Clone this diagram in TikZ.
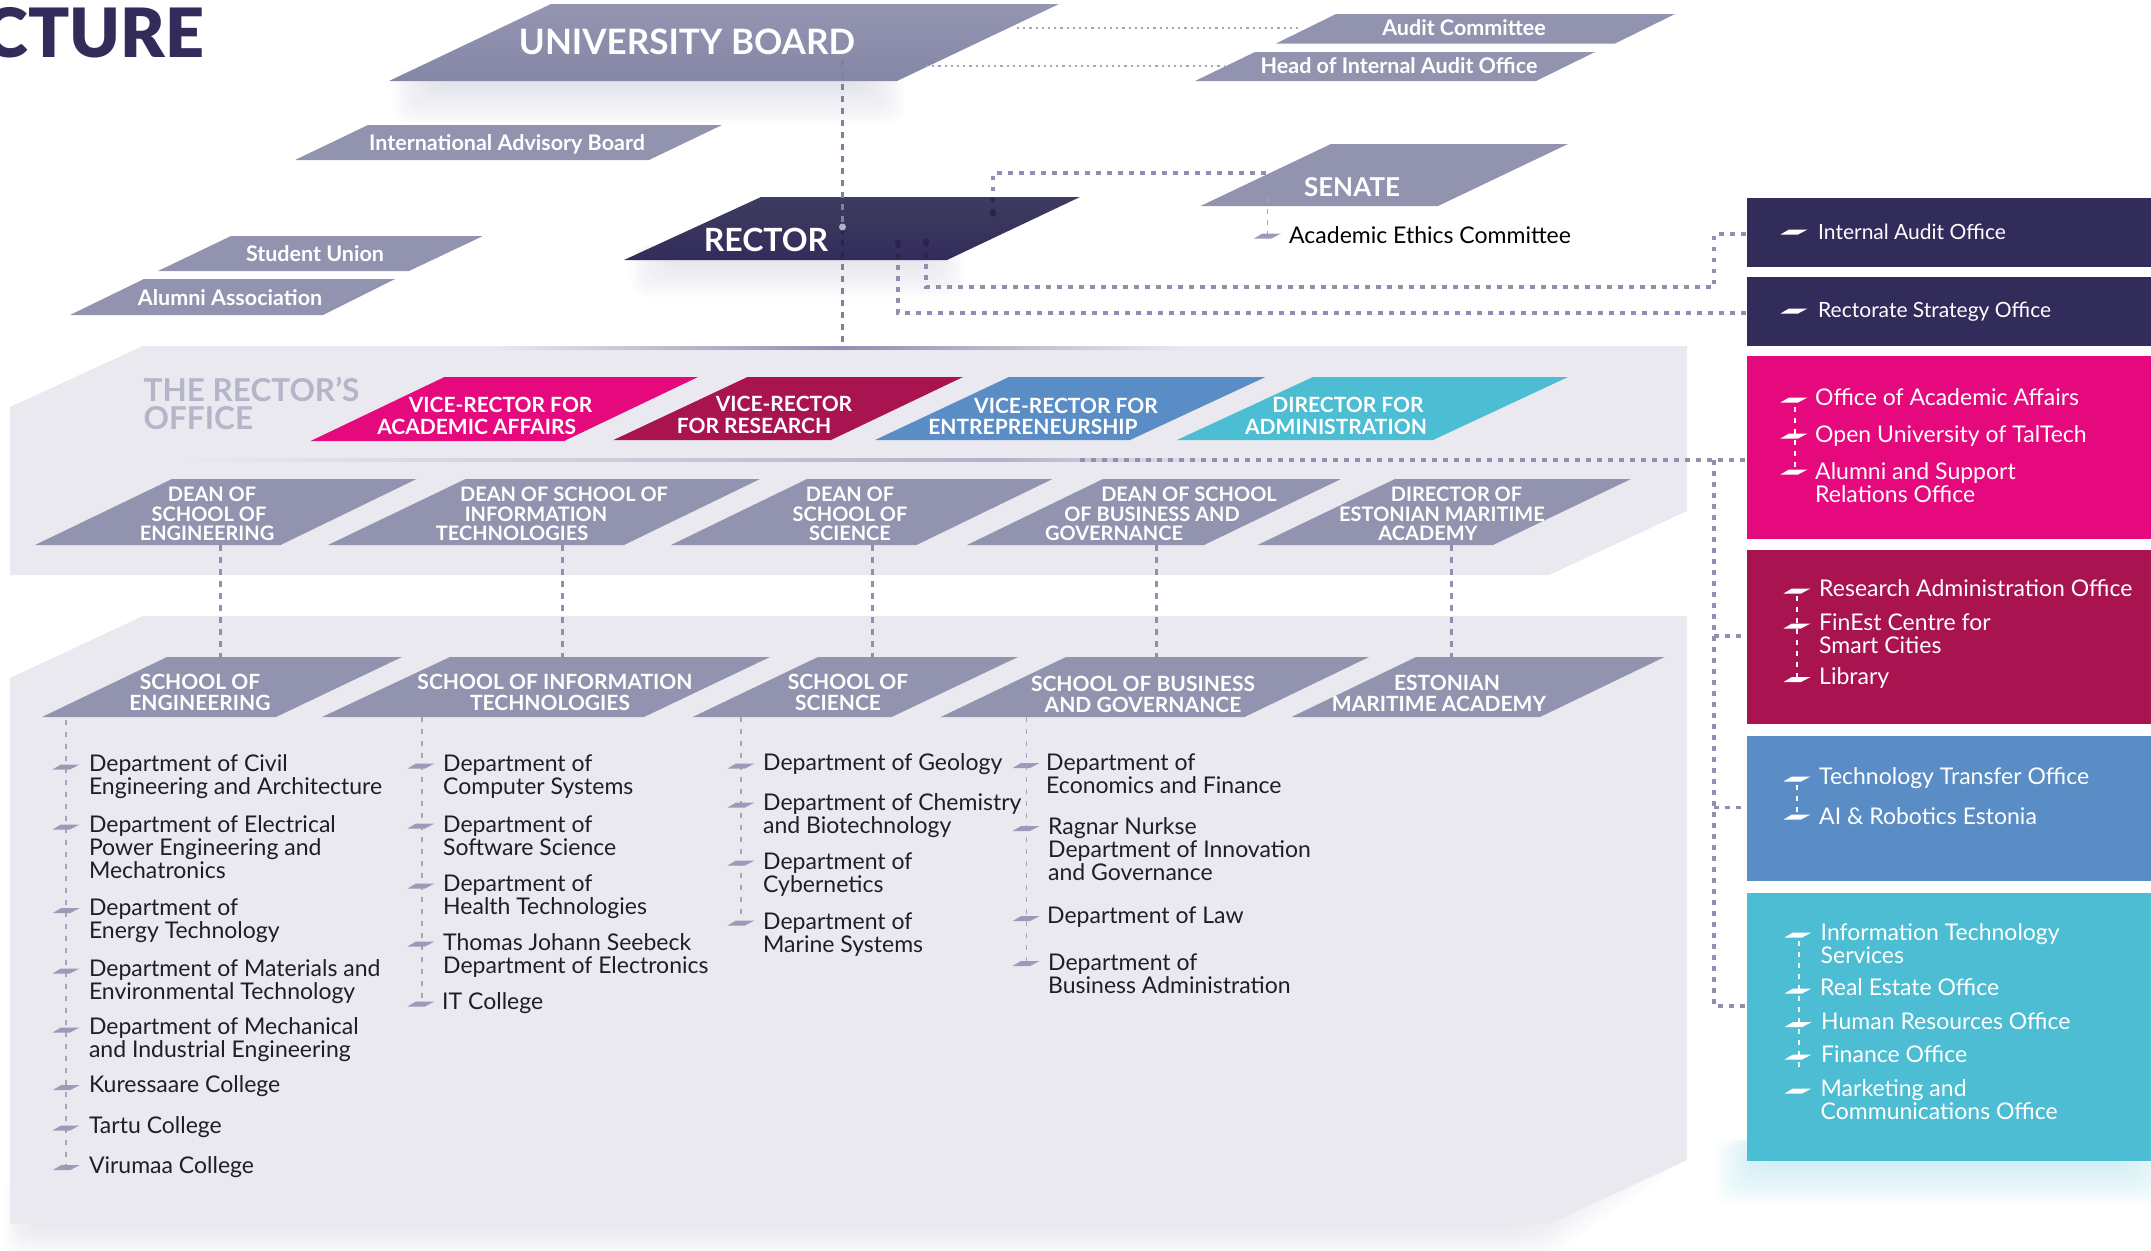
\documentclass[tikz,border=0pt]{standalone}
\usepackage{fontspec}
\setmainfont{Lato}
\newfontfamily\titlefont{Lato Black}
\definecolor{grayshape}{HTML}{9294AF}
\definecolor{boardtop}{HTML}{9395B1}
\definecolor{boardbot}{HTML}{8587A6}
\definecolor{navy}{HTML}{322C5B}
\definecolor{navytop}{HTML}{3E3C60}
\definecolor{pinkc}{HTML}{E6097E}
\definecolor{crimson}{HTML}{A91350}
\definecolor{bluec}{HTML}{5A8DC5}
\definecolor{cyanc}{HTML}{4CBDD3}
\definecolor{panel}{HTML}{E9E9EF}
\definecolor{lineC}{HTML}{8F8FB0}
\definecolor{bulC}{HTML}{9A9BB8}
\definecolor{officeC}{HTML}{B5B5C9}
\definecolor{darktxt}{HTML}{1E1E2A}
\newcommand{\shf}[1]{\hspace*{#1pt}}
\newcommand{\pgm}[7]{\fill[#7] (#1,#5) -- (#2,#5) -- (#4,#6) -- (#3,#6) -- cycle;}
\newcommand{\bul}[3]{\fill[#3] (#1-13.5,#2+2.5) -- (#1-5,#2-2.5) -- (#1+13.5,#2-2.5) -- (#1+4,#2+2.5) -- cycle;}
\newcommand{\softsh}[5]{\foreach \k in {0,...,15}{\fill[#5,opacity=0.018,rounded corners=16pt] (#1+\k*3,#2) rectangle (#3-\k*3,#4-\k*3);}}
\tikzset{
  x=1pt,y=-1pt,
  heavy/.style={line width=3.2pt,draw=lineC,dash pattern=on 4.5pt off 6.5pt},
  thinrule/.style={line width=1.4pt,draw=lineC!80,dash pattern=on 5pt off 7pt},
  lightdots/.style={line width=2.2pt,draw=lineC!80,dash pattern=on 2.2pt off 4pt},
  wlist/.style={line width=1.4pt,draw=white,dash pattern=on 5pt off 6pt},
  head/.style={inner sep=0pt,text=white,align=center,font=\fontsize{20.5}{20}\selectfont\bfseries},
  dean/.style={head,font=\fontsize{20}{19.5}\selectfont\bfseries},
  vice/.style={head,font=\fontsize{21}{21.8}\selectfont\bfseries},
  school/.style={head,font=\fontsize{21}{21}\selectfont\bfseries},
  small/.style={head,font=\fontsize{21.5}{20}\selectfont\bfseries},
  dept/.style={inner sep=0pt,text=darktxt,align=left,anchor=west,yshift=-1.5pt,font=\fontsize{23}{23}\selectfont},
  off/.style={inner sep=0pt,text=white,align=left,anchor=west,font=\fontsize{23}{23}\selectfont},
  offsm/.style={off,font=\fontsize{21}{21}\selectfont},
}
\begin{document}
\begin{tikzpicture}
\useasboundingbox (0,0) rectangle (2151,1250);
\clip (0,0) rectangle (2151,1250);
% soft shadows
\softsh{392}{70}{905}{125}{lineC}
\softsh{630}{245}{965}{298}{lineC}
\softsh{1715}{1140}{2170}{1205}{cyanc}
\foreach \k in {0,...,15}{
  \fill[lineC,opacity=0.016,rounded corners=14pt] (4+\k*2,1180) -- (1672-\k*3,1130) -- (1672-\k*3,1172-\k*2) -- (1555-\k*3,1254-\k*2) -- (4+\k*2,1254-\k*2) -- cycle;
}
% panels
\fill[panel] (143,346) -- (1687,346) -- (1687,511) -- (1549,575) -- (10,575) -- (10,407) -- cycle;
\fill[panel] (143,616) -- (1687,616) -- (1687,1160) -- (1549,1224) -- (10,1224) -- (10,678) -- cycle;
% gradient rules
\shade[left color=panel,right color=panel,middle color=lineC] (491,346) rectangle (1187,349);
\shade[left color=panel,right color=lineC!70] (180,458.5) rectangle (1000,461.5);
\shade[left color=lineC!70,right color=panel] (1000,458.5) rectangle (1230,461.5);
% title
\node[inner sep=0pt,anchor=base east,text=navy,font=\fontsize{68}{68}\selectfont\titlefont] (title) at (204.5,57) {CTURE};
% top shapes
\shade[top color=boardtop,bottom color=boardbot] (551,4) -- (1059,4) -- (897,81) -- (389,81) -- cycle;
\pgm{368}{722}{295}{649}{125}{160}{grayshape}
\pgm{231}{483}{158}{409}{236}{271}{grayshape}
\pgm{144}{395}{70}{323}{279}{315}{grayshape}
\pgm{1336}{1675}{1276}{1615}{14}{43.5}{grayshape}
\pgm{1255}{1595}{1195}{1536}{52}{81}{grayshape}
\pgm{1331}{1568}{1200.5}{1438}{144}{206}{grayshape}
\shade[top color=navytop,bottom color=navy] (761,197) -- (1080,197) -- (947,260) -- (624,260) -- cycle;
% side boxes
\fill[navy] (1747,197.5) rectangle (2151,267);
\fill[navy] (1747,277) rectangle (2151,346);
\fill[pinkc] (1747,356) rectangle (2151,538.6);
\fill[crimson] (1747,550) rectangle (2151,724);
\fill[bluec] (1747,736) rectangle (2151,880.6);
\fill[cyanc] (1747,893) rectangle (2151,1161);
% leadership shapes
\pgm{444.5}{698}{310.6}{564}{377}{441}{pinkc}
\pgm{747.5}{963}{613.5}{831}{377}{440}{crimson}
\pgm{1009}{1265.5}{875}{1130}{377}{440}{bluec}
\pgm{1313}{1568}{1177}{1433}{377}{440}{cyanc}
\pgm{172}{416.5}{35}{280.6}{479}{545}{grayshape}
\pgm{465.6}{760}{328}{624}{479}{545}{grayshape}
\pgm{807}{1052.5}{671}{916.5}{479}{545}{grayshape}
\pgm{1103}{1341}{967}{1204}{479}{545}{grayshape}
\pgm{1395}{1631}{1257.5}{1493}{479}{545}{grayshape}
\pgm{167}{402}{42}{276}{657}{717}{grayshape}
\pgm{450}{770}{322}{644}{657}{717}{grayshape}
\pgm{818}{1018}{692.6}{891.6}{657}{717}{grayshape}
\pgm{1066}{1369}{940.7}{1244.5}{657}{717}{grayshape}
\pgm{1416}{1664.5}{1291.5}{1540}{657}{717}{grayshape}
% connector ports
\coordinate (boardS) at (842.5,60);
\coordinate (officeTop) at (842.5,347);
\coordinate (boardE1) at (1017,28);
\coordinate (auditW) at (1301,28);
\coordinate (boardE2) at (926,66);
\coordinate (headW) at (1224,66);
\coordinate (rectorA) at (993,213);
\coordinate (cornerA) at (993,173);
\coordinate (senateW) at (1271,173);
\coordinate (senateS) at (1267.5,198);
\coordinate (ethicsB) at (1267.5,236);
\coordinate (rectorB) at (926,242);
\coordinate (cornerB1) at (926,287);
\coordinate (cornerB2) at (1714,287);
\coordinate (cornerB3) at (1714,234);
\coordinate (auditBoxW) at (1747,234);
\coordinate (rectorC) at (898,243);
\coordinate (cornerC) at (898,313);
\coordinate (strategyW) at (1747,313);
\coordinate (midS) at (1080,460);
\coordinate (pinkW) at (1747,460);
\coordinate (busT) at (1714,460);
\coordinate (busB) at (1714,1006);
\coordinate (crimsonW) at (1747,636);
\coordinate (busC) at (1714,636);
\coordinate (blueW) at (1747,807.5);
\coordinate (busD) at (1714,807.5);
\coordinate (cyanW) at (1747,1006);
\foreach \n/\x in {a/220.6,b/562.5,c/872.5,d/1156.4,e/1451.5}{
  \coordinate (dean\n) at (\x,545);
  \coordinate (school\n) at (\x,657);
  \draw[heavy,line width=2.6pt,dash pattern=on 6pt off 6pt] (dean\n) -- (school\n);
}
% connectors
\draw[heavy,line width=2.6pt,draw=lineC!90!black,dash pattern=on 6pt off 6pt] (boardS) -- (officeTop);
\draw[lightdots] (boardE1) -- (auditW);
\draw[lightdots] (boardE2) -- (headW);
\draw[heavy] (rectorA) -- (cornerA) -- (senateW);
\draw[line width=1.4pt,draw=lineC!80,dash pattern=on 5pt off 6pt] (senateS) -- (ethicsB);
\draw[heavy] (rectorB) -- (cornerB1) -- (cornerB2) -- (cornerB3) -- (auditBoxW);
\draw[heavy] (rectorC) -- (cornerC) -- (strategyW);
\draw[heavy] (midS) -- (pinkW);
\draw[heavy] (busT) -- (busB) -- (cyanW);
\draw[heavy] (busC) -- (crimsonW);
\draw[heavy] (busD) -- (blueW);
% parts of the connectors that cross the rector shape
\begin{scope}
\clip (761,197) -- (1080,197) -- (947,260) -- (624,260) -- cycle;
\draw[heavy,draw=navy!85!black] (rectorA) -- (cornerA) -- (senateW);
\draw[heavy,draw=navy!85!black] (rectorB) -- (cornerB1) -- (cornerB2) -- (cornerB3) -- (auditBoxW);
\draw[heavy,draw=navy!85!black] (rectorC) -- (cornerC) -- (strategyW);
\clip (830,227) rectangle (860,262);
\draw[heavy,line width=2.6pt,draw=navy!85!black,dash pattern=on 6pt off 6pt] (boardS) -- (officeTop);
\end{scope}
\fill[navy!85!black] (rectorA) circle (3.5);
\fill[navy!85!black] (rectorB) circle (3.5);
\fill[navy!85!black] (rectorC) circle (3.5);
\fill[lineC!70] (842.5,227) circle (3.5);
% department list rules
\coordinate (c1t) at (65.8,720);\coordinate (c1b) at (65.8,1167);
\coordinate (c2t) at (422,717);\coordinate (c2b) at (422,1004);
\coordinate (c3t) at (741,717);\coordinate (c3b) at (741,923);
\coordinate (c4t) at (1026.4,717);\coordinate (c4b) at (1026.4,963);
\draw[thinrule] (c1t) -- (c1b);
\draw[thinrule] (c2t) -- (c2b);
\draw[thinrule] (c3t) -- (c3b);
\draw[thinrule] (c4t) -- (c4b);
\foreach \y in {767,827,910.7,971,1030,1087.7,1128,1167.7}{\bul{66}{\y}{bulC}}
\foreach \y in {766,826,886,944,1004}{\bul{421}{\y}{bulC}}
\foreach \y in {766,805,863,923}{\bul{741}{\y}{bulC}}
\foreach \y in {765.5,828.5,918.6,963.5}{\bul{1026}{\y}{bulC}}
\bul{1267.5}{236}{bulC}
% lists inside the side boxes
\coordinate (pk1) at (1795,407);\coordinate (pk2) at (1795,471);
\coordinate (cr1) at (1797,596);\coordinate (cr2) at (1797,679);
\coordinate (bl1) at (1797,785);\coordinate (bl2) at (1797,817);
\coordinate (cy1) at (1799,941);\coordinate (cy2) at (1799,1070);
\draw[wlist] (pk1) -- (pk2);
\draw[wlist] (cr1) -- (cr2);
\draw[wlist] (bl1) -- (bl2);
\draw[wlist] (cy1) -- (cy2);
\foreach \y in {232,311,400,436,472}{\bul{1794}{\y}{white}}
\foreach \y in {591,626,679.5,779,817}{\bul{1797}{\y}{white}}
\foreach \y in {935,991,1024.6,1057,1091}{\bul{1798}{\y}{white}}
% labels: top
\node[head,font=\fontsize{35}{35}\selectfont\bfseries] (tBoard) at (687,42) {UNIVERSITY BOARD};
\node[small] (tIab) at (507,144.5) {International Advisory Board};
\node[small] (tSu) at (315,254) {Student Union};
\node[small] (tAa) at (230,298) {Alumni Association};
\node[small] (tAudit) at (1464,28) {Audit Committee};
\node[small] (tHead) at (1399,66) {Head of Internal Audit Office};
\node[head,font=\fontsize{26}{26}\selectfont\bfseries] (tSenate) at (1352,187) {SENATE};
\node[dept,text=black,yshift=1.5pt] (tEthics) at (1289,235) {Academic Ethics Committee};
\node[head,font=\fontsize{32}{32}\selectfont\bfseries] (tRector) at (766,240) {RECTOR};
\node[inner sep=0pt,text=officeC,align=left,anchor=west,font=\fontsize{31.5}{28}\selectfont\bfseries] (tOffice) at (143.5,403.5) {THE RECTOR’S\\OFFICE};
% labels: vice-rectors
\node[vice] (v1) at (488.6,416) {\shf{24}VICE-RECTOR FOR\\\shf{-24}ACADEMIC AFFAIRS};
\node[vice] (v2) at (769,415) {\shf{30}VICE-RECTOR\\\shf{-30}FOR RESEARCH};
\node[vice] (v3) at (1049.5,416.5) {\shf{33}VICE-RECTOR FOR\\\shf{-33}ENTREPRENEURSHIP};
\node[vice] (v4) at (1342,416) {\shf{12}DIRECTOR FOR\\\shf{-12}ADMINISTRATION};
% labels: deans
\node[dean] (d1) at (209,514) {\shf{6}DEAN OF\\SCHOOL OF\\\shf{-4}ENGINEERING};
\node[dean] (d2) at (536,514) {\shf{56}DEAN OF SCHOOL OF\\INFORMATION\\\shf{-48}TECHNOLOGIES};
\node[dean] (d3) at (850,514) {DEAN OF\\SCHOOL OF\\SCIENCE};
\node[dean] (d4) at (1152,514) {\shf{74}DEAN OF SCHOOL\\OF BUSINESS AND\\\shf{-76}GOVERNANCE};
\node[dean] (d5) at (1442,514) {\shf{29}DIRECTOR OF\\ESTONIAN MARITIME\\\shf{-28}ACADEMY};
% labels: schools
\node[school] (s1) at (200,692.5) {SCHOOL OF\\ENGINEERING};
\node[school] (s2) at (552.5,692.5) {\shf{5}SCHOOL OF INFORMATION\\\shf{-5}TECHNOLOGIES};
\node[school] (s3) at (843,692.5) {\shf{10}SCHOOL OF\\\shf{-10}SCIENCE};
\node[school] (s4) at (1143,694) {SCHOOL OF BUSINESS\\AND GOVERNANCE};
\node[school] (s5) at (1443,693.5) {\shf{8}ESTONIAN\\\shf{-8}MARITIME ACADEMY};
% labels: departments
\node[dept] (a1) at (88.8,775.5) {Department of Civil\\Engineering and Architecture};
\node[dept] (a2) at (88.8,845.5) {Department of Electrical\\Power Engineering and\\Mechatronics};
\node[dept] (a3) at (88.8,919) {Department of\\Energy Technology};
\node[dept] (a4) at (88.8,980.5) {Department of Materials and\\Environmental Technology};
\node[dept] (a5) at (88.8,1038.5) {Department of Mechanical\\and Industrial Engineering};
\node[dept] (a6) at (88.8,1085) {Kuressaare College};
\node[dept] (a7) at (88.8,1126) {Tartu College};
\node[dept] (a8) at (88.8,1166) {Virumaa College};
\node[dept] (b1) at (443,775) {Department of\\Computer Systems};
\node[dept] (b2) at (443,834) {Department of\\Software Science};
\node[dept] (b3) at (443,895.5) {Department of\\Health Technologies};
\node[dept] (b4) at (443,954) {Thomas Johann Seebeck\\Department of Electronics};
\node[dept] (b5) at (442,1002) {IT College};
\node[dept] (c1) at (763,763) {Department of Geology};
\node[dept] (c2) at (763,814.5) {Department of Chemistry\\and Biotechnology};
\node[dept] (c3) at (763,873.5) {Department of\\Cybernetics};
\node[dept] (c4) at (763,933.5) {Department of\\Marine Systems};
\node[dept] (e1) at (1046,772.5) {Department of\\Economics and Finance};
\node[dept] (e2) at (1048,847.5) {Ragnar Nurkse\\Department of Innovation\\and Governance};
\node[dept] (e3) at (1047,916) {Department of Law};
\node[dept] (e4) at (1048,972) {Department of\\Business Administration};
% labels: offices
\node[offsm] (o1) at (1818,232) {Internal Audit Office};
\node[offsm] (o2) at (1818,312) {Rectorate Strategy Office};
\node[off] (o3) at (1815,397.5) {Office of Academic Affairs};
\node[off] (o4) at (1815,435.5) {Open University of TalTech};
\node[off] (o5) at (1815,482.5) {Alumni and Support\\Relations Office};
\node[off] (o6) at (1819,588) {Research Administration Office};
\node[off] (o7) at (1819,634) {FinEst Centre for\\Smart Cities};
\node[off] (o8) at (1819,677.5) {Library};
\node[off] (o9) at (1819,778) {Technology Transfer Office};
\node[off] (o10) at (1819,816) {AI \& Robotics Estonia};
\node[off] (o11) at (1820.5,943.5) {Information Technology\\Services};
\node[off] (o12) at (1820,987.5) {Real Estate Office};
\node[off] (o13) at (1821,1021.5) {Human Resources Office};
\node[off] (o14) at (1821,1054.5) {Finance Office};
\node[off] (o15) at (1820.5,1100) {Marketing and\\Communications Office};
\end{tikzpicture}
\end{document}
